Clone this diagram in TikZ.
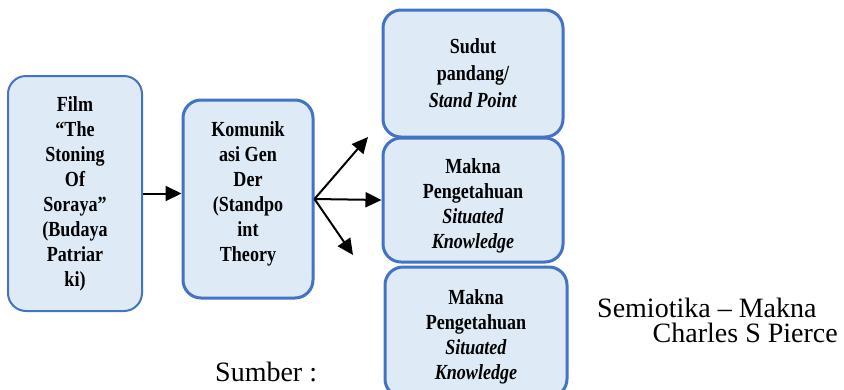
\documentclass[tikz,border=0pt]{standalone}
\usepackage{fontspec}
\setmainfont{Liberation Serif}
\newfontfamily\boxfont[FakeStretch=0.84]{Liberation Serif}
\usetikzlibrary{arrows.meta}
\definecolor{boxblue}{HTML}{4472C4}
\definecolor{boxfill}{HTML}{DEEAF6}
\begin{document}
\begin{tikzpicture}[x=1pt,y=-1pt,
    box/.style={draw=boxblue,fill=boxfill,line width=3pt,rounded corners=18pt,align=center,inner sep=0pt,font=\boxfont\fontsize{21.5}{25}\selectfont\bfseries},
    arr/.style={line width=2pt,-{Triangle[length=16pt,width=15pt]}},
    plain/.style={inner sep=0pt,font=\fontsize{28}{28}\selectfont}]

      \clip (0,0) rectangle (844,389);
      \fill[white] (0,0) rectangle (844,389);

      \node[box,line width=2pt,minimum width=134,minimum height=235] (film) at (75,193.5) {Film\\“The\\Stoning\\Of\\Soraya”\\(Budaya\\Patriar\\ki)};
      \node[box,minimum width=130,minimum height=198] (komunikasi) at (248,199) {Komunik\\asi Gen\\Der\\(Standpo\\int\\Theory\\[-18pt]\strut};
      \node[box,minimum width=180,minimum height=127] (sudut) at (473,73.5) {Sudut\\[2pt]pandang/\\[2pt]\textit{Stand Point}};
      \node[box,minimum width=180,minimum height=124] (makna1) at (473,200) {\strut\\[-15pt]Makna\\Pengetahuan\\\textit{Situated}\\\textit{Knowledge}};
      \node[box,minimum width=182,minimum height=130] (makna2) at (476,332) {\strut\\[-17pt]Makna\\Pengetahuan\\\textit{Situated}\\\textit{Knowledge}};

      \coordinate (up) at (368,137);
      \coordinate (down) at (353,255);

      \draw[arr] (film.east) -- (film.east -| komunikasi.west);
      \draw[arr] (komunikasi.east) -- (up);
      \draw[arr] (komunikasi.east) -- (makna1.west);
      \draw[arr] (komunikasi.east) -- (down);

      \node[plain,anchor=base west] (semiotika) at (597,317) {Semiotika – Makna};
      \node[plain,anchor=base east] (pierce) at (838,342) {Charles S Pierce};
      \node[plain,anchor=base west] (sumber) at (215,381) {Sumber :};

    \end{tikzpicture}
\end{document}
